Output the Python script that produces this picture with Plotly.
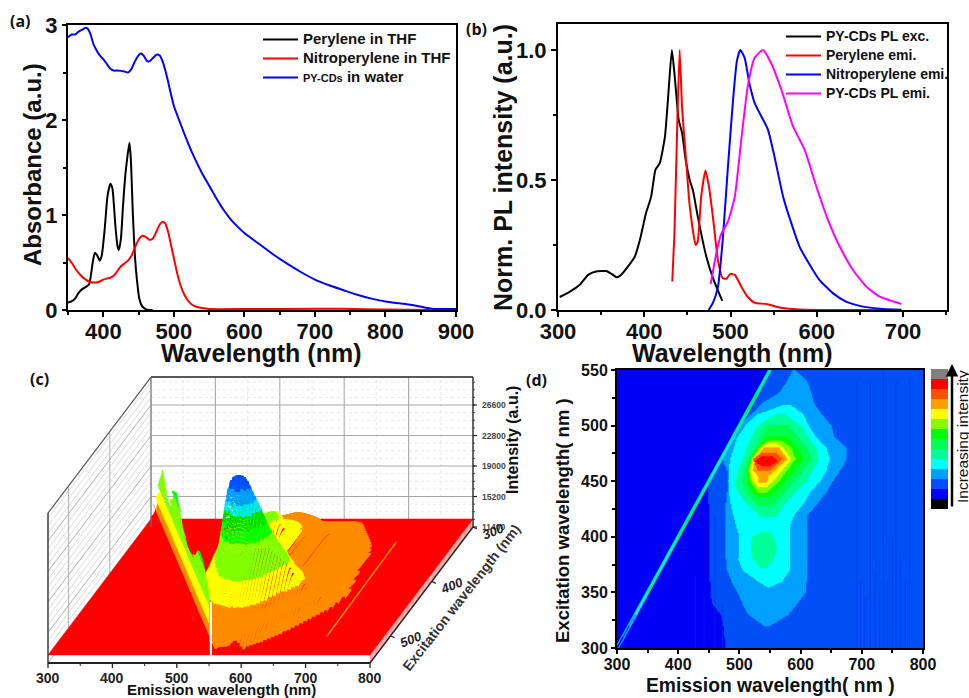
import numpy as np
import plotly.graph_objects as go

W, H = 969, 698
FONT = "Liberation Sans"

# ---------- panel (a): absorbance ----------
per_abs_x = [350,355,360,365,370,375,380,385,388,391,395,398,402,406,410,413,417,420,422,425,428,431,434,437,439,442,445,448,451,455,460,465,470]
per_abs_y = [.08,.09,.12,.18,.22,.24,.27,.50,.60,.58,.52,.58,.85,1.2,1.33,1.28,.9,.68,.63,.75,1.1,1.40,1.6,1.76,1.6,1.0,.55,.3,.12,.04,.01,0,0]
nit_abs_x = [350,355,360,365,370,375,380,385,390,395,400,410,415,420,425,430,435,440,445,450,455,460,465,470,475,480,484,488,492,497,500,505,510,515,520,525,530,540,550,600,700,740,800,870,900]
nit_abs_y = [.55,.5,.44,.39,.35,.32,.30,.29,.29,.30,.32,.34,.36,.41,.46,.49,.52,.57,.66,.74,.78,.77,.74,.75,.82,.90,.93,.91,.82,.65,.55,.38,.25,.16,.10,.06,.04,.02,.01,.01,.012,.012,.005,0,0]
cds_abs_x = [350,355,360,365,370,375,378,382,386,390,395,400,405,410,415,420,430,435,440,445,450,453,457,462,466,470,476,480,484,488,492,496,500,510,520,530,540,550,560,570,580,590,600,620,640,660,680,700,720,740,760,780,800,820,840,860,870,880,900]
cds_abs_y = [2.87,2.90,2.90,2.93,2.95,2.97,2.96,2.90,2.80,2.74,2.68,2.64,2.59,2.54,2.52,2.52,2.51,2.50,2.54,2.62,2.68,2.70,2.68,2.62,2.62,2.65,2.69,2.68,2.62,2.52,2.4,2.27,2.15,1.95,1.76,1.59,1.44,1.31,1.18,1.06,.96,.88,.81,.70,.59,.49,.40,.32,.26,.21,.16,.12,.09,.07,.05,.02,.01,.01,.01]

# ---------- panel (b): normalised PL ----------
exc_x = [302,313.5,325,335,344,356,362,368,373,381,389,395,402,408,413,418,424,427.5,432,435,440,444,448,452.7,456.5,462,472,480,490.5]
exc_y = [.05,.07,.096,.135,.148,.15,.139,.126,.135,.167,.205,.27,.372,.436,.54,.565,.667,.81,1.0,.91,.73,.68,.578,.50,.46,.36,.205,.12,.035]
per_emi_x = [432.5,435,438,441,444,448,452.7,459.6,462,466,471,475,480,485.5,491,495,500,505,512.5,520,528,541.5,557,572,588,698]
per_emi_y = [.11,.295,.68,1.0,.77,.60,.40,.25,.263,.436,.537,.475,.347,.19,.122,.12,.139,.135,.09,.05,.028,.023,.01,.004,.001,0]
nit_emi_x = [474.7,480,485.5,491,497,503,507.5,511.4,516.4,522,528,535.7,543.5,551,561,570.5,580,592,603,619,634,653.6,673,698]
nit_emi_y = [0,.03,.09,.27,.55,.81,.96,1.0,.97,.87,.796,.745,.693,.59,.436,.334,.244,.173,.116,.064,.032,.013,.005,.001]
cds_emi_x = [477,483.6,489,497,505,512.5,520,528,537.7,547,559,572.5,586,599.5,613,626.6,642,657.5,673,698]
cds_emi_y = [.10,.218,.29,.34,.436,.655,.86,.97,1.0,.95,.847,.706,.616,.475,.347,.244,.154,.09,.051,.023]

# ---------- panels (c), (d): excitation-emission map, band extents per excitation row ----------
L1_ex = list(range(300, 551, 10))
L1_left = [478,476,474,470,455,453,452,452,452,452,452,452,452,450,450,450,460,470,480,490,500,510,520,530,540,550]

L2_ex = [320,330,340,350,360,370,380,390,400,410,420,430,440,450,460,470,480,490,500,510,520,530,540,550]
L2_l  = [540,515,505,497,487,480,478,478,478,478,478,478,480,482,480,472,480,490,500,520,537,566,578,588]
L2_r  = [550,580,595,608,610,610,610,610,610,611,612,628,642,653,665,675,675,655,650,635,622,617,611,590]
L3_ex = [355,360,370,380,390,400,410,420,430,440,450,460,470,480,490,500,510,518]
L3_l  = [545,530,505,498,500,500,495,490,486,483,482,483,485,491,497,510,530,570]
L3_r  = [550,570,583,583,583,583,583,590,605,615,633,642,648,642,625,613,605,585]
L4a_ex = [372,380,390,400,404]
L4a_l  = [535,522,518,522,535]
L4a_r  = [545,557,561,557,548]
L4_ex = [418,430,440,450,460,470,480,490,500,510]
L4_l  = [535,510,497,492,498,505,512,520,530,560]
L4_r  = [560,575,592,610,620,630,625,612,600,575]
L5_ex = [428,440,450,460,470,480,490,500]
L5_l  = [530,510,505,508,515,525,535,545]
L5_r  = [555,575,590,605,618,610,595,580]
L6_ex = [436,440,450,460,470,480,490]
L6_l  = [530,520,513,512,518,530,545]
L6_r  = [548,560,575,590,605,595,580]
L7_ex = [440,450,460,470,480,486]
L7_l  = [530,518,515,520,532,545]
L7_r  = [545,565,578,592,585,570]
L8_ex = [445,450,460,470,480,484]
L8_l  = [530,522,517,522,535,545]
L8_r  = [545,555,570,585,572,560]
L9_ex = [449,455,460,470,480]
L9_l  = [532,530,522,525,540]
L9_r  = [545,548,560,578,565]
L10_ex = [460,470,475]
L10_l  = [530,522,535]
L10_r  = [550,572,560]
L11_ex = [464,468,472]
L11_l  = [535,525,535]
L11_r  = [550,563,555]

# wider low (orange) plateau seen on the surface in (c)
C2_ex = [320,340,360,380,400,420,440,460,480,500,520,540,550]
C2_l  = [520,490,480,470,470,470,470,470,480,500,520,545,560]
C2_r  = [640,660,680,690,690,695,700,700,690,670,650,625,600]

# Rayleigh ridge along emission = excitation (counts)
ridge_ex = L1_ex
ridge_I = [12600,13600,15100,17500,20200,21900,20900,19700,19450,20900,22600,23100,22100,21200,20400,19900,19600,19700,19950,20700,21900,22600,22400,21800,20900,19950]
# Thin lines visible on the surface
line2_em = [711,708]
line2_ex = [516,342]
line3_em = [575,575]
line3_ex = [379,352]
# darker / lighter columns of (d)
dark_em  = [692,698,705,714,722,729,735,742,750,756,763,771,778]
dark_top = [540,360,345,540,370,380,550,360,400,540,380,360,540]
light_em  = [428,442,460,472]
light_top = [365,350,420,340]

level_colors = ["#0000f5","#0050f5","#00a0ff","#00ffff","#00ff99","#00ff50","#00ff00","#80ff00","#ffff00","#ffa000","#ff5000","#ff0000"]
bar_colors = ["#000000","#0000ff","#0050ff","#00a0ff","#00ffff","#00ff99","#00ff50","#00ff00","#80ff00","#ffff00","#ffa000","#ff5000","#ff0000","#808080"]
surf_colors = ["#ff0000","#ff0000","#ff8c00","#ffff00","#80ff00","#80ff00","#00ff00","#00e000","#00e5ff","#009cff","#0050ff","#0000d0"]
level_intensity = [12400,12700,14900,16400,18600,20200,22000,23400,25000,26200,27700,29500]
surf_thresholds = [12400,12700,13200,16000,18500,20200,22000,23400,25000,26200,27700,29500]
C2_I = 13600
z_ticks = [11400,15200,19000,22800,26600]
Z_TOP = 30080

# ---------- assemble the level matrix ----------
em_grid = np.arange(300, 801, 2)
ex_grid = np.arange(300, 551, 1)
Z = np.zeros((len(ex_grid), len(em_grid)))
bands = [(1,L1_ex,L1_left,[800]*len(L1_ex)),(2,L2_ex,L2_l,L2_r),(3,L3_ex,L3_l,L3_r),(4,L4a_ex,L4a_l,L4a_r),(4,L4_ex,L4_l,L4_r),(5,L5_ex,L5_l,L5_r),
         (6,L6_ex,L6_l,L6_r),(7,L7_ex,L7_l,L7_r),(8,L8_ex,L8_l,L8_r),(9,L9_ex,L9_l,L9_r),(10,L10_ex,L10_l,L10_r),(11,L11_ex,L11_l,L11_r)]
def mask_of(e, rows, ls, rs):
    if rows[0] <= e <= rows[-1]:
        return (em_grid >= np.interp(e, rows, ls)) & (em_grid <= np.interp(e, rows, rs))
    return np.zeros_like(em_grid, dtype=bool)
for lev, rows, ls, rs in bands:
    for i, e in enumerate(ex_grid):
        Z[i, mask_of(e, rows, ls, rs)] = lev

# ---------- figure ----------
fig = go.Figure()
def dom_x(a, b): return [a / W, b / W]
def dom_y(top, bot): return [1 - bot / H, 1 - top / H]

def ax_common(**kw):
    d = dict(showgrid=False, zeroline=False, showline=True, mirror=True, linecolor="black", linewidth=2, automargin=False,
             ticks="outside", tickcolor="black", tickwidth=1.5, ticklen=5,
             tickfont=dict(family=FONT, size=22, color="#111", weight="bold"))
    d.update(kw); return d

line_kw = dict(width=2, shape="spline", smoothing=0.5)
def big(s, px): return f'<span style="font-size:{px}px">{s}</span>'
# (a)
for x, y, c, n in [(per_abs_x, per_abs_y, "black", big("Perylene in THF", 15)),
                   (nit_abs_x, nit_abs_y, "#ff0000", big("Nitroperylene in THF", 15)),
                   (cds_abs_x, cds_abs_y, "#0000ff", big("PY-CDs", 11) + big(" in water", 15))]:
    fig.add_trace(go.Scatter(x=x, y=y, mode="lines", name=n, line=dict(color=c, **line_kw), xaxis="x", yaxis="y", legend="legend", hoverinfo="skip"))
# (b)
for x, y, c, n in [(exc_x, exc_y, "black", big("PY-CDs PL exc.", 14)),
                   (per_emi_x, per_emi_y, "#ff0000", big("Perylene emi.", 14)),
                   (nit_emi_x, nit_emi_y, "#0000ff", big("Nitroperylene emi.", 14)),
                   (cds_emi_x, cds_emi_y, "#ff00ff", big("PY-CDs PL emi.", 14))]:
    fig.add_trace(go.Scatter(x=x, y=y, mode="lines", name=n, line=dict(color=c, **line_kw), xaxis="x2", yaxis="y2", legend="legend2", hoverinfo="skip"))

# (d) contour
scale = []
n = len(level_colors)
for i, c in enumerate(level_colors):
    scale += [[i / n, c], [(i + 1) / n, c]]
fig.add_trace(go.Contour(x=em_grid, y=ex_grid, z=Z, zmin=-0.5, zmax=11.5, colorscale=scale, showscale=False,
                         autocontour=False, contours=dict(start=0.5, end=10.5, size=1, coloring="fill", showlines=False),
                         line=dict(width=0), xaxis="x4", yaxis="y4", hoverinfo="skip"))
dx, dy = [], []
for e, t in zip(dark_em, dark_top):
    dx += [e, e, None]; dy += [300, t, None]
fig.add_trace(go.Scatter(x=dx, y=dy, mode="lines", line=dict(color="#0030f0", width=1), opacity=0.55, xaxis="x4", yaxis="y4", showlegend=False, hoverinfo="skip"))
dx, dy = [], []
for e, t in zip(light_em, light_top):
    dx += [e, e, None]; dy += [300, t, None]
fig.add_trace(go.Scatter(x=dx, y=dy, mode="lines", line=dict(color="#0030f5", width=1), opacity=0.6, xaxis="x4", yaxis="y4", showlegend=False, hoverinfo="skip"))
lev_of = lambda I: int(np.clip(np.searchsorted(level_intensity, I) - 1, 0, 11))
fig.add_trace(go.Scatter(x=ridge_ex, y=ridge_ex, mode="lines", line=dict(color="#00d0ff", width=3.6), xaxis="x4", yaxis="y4", showlegend=False, hoverinfo="skip"))
for lev in sorted({lev_of(I) for I in ridge_I}):
    xs = []
    for i in range(len(ridge_ex) - 1):
        if lev_of(ridge_I[i]) == lev:
            xs += [ridge_ex[i], ridge_ex[i + 1], None]
    fig.add_trace(go.Scatter(x=xs, y=xs, mode="lines", line=dict(color=level_colors[lev], width=1.8), xaxis="x4", yaxis="y4", showlegend=False, hoverinfo="skip"))

# intensity bar
fig.add_trace(go.Heatmap(z=[[i] for i in range(14)], x=[0], y=list(range(14)), zmin=-0.5, zmax=13.5, showscale=False,
                         colorscale=sum([[[i / 14, c], [(i + 1) / 14, c]] for i, c in enumerate(bar_colors)], []),
                         xaxis="x5", yaxis="y5", hoverinfo="skip"))

# (c) oblique projection of (emission, excitation, intensity)
X0, Y0, SX, DX, DY, K = 48, 663, 322 / 500, 103 / 250, 136 / 250, 30.5 / 3800
def proj(em, ex, I):
    return X0 + (em - 300) * SX + (550 - ex) * DX, Y0 - (550 - ex) * DY - (I - 11400) * K

def add3(xs, ys, color, width=1, dash=None, fill=False):
    tr = dict(x=xs, y=ys, mode="lines", xaxis="x3", yaxis="y3", showlegend=False, hoverinfo="skip",
              line=dict(color=color, width=width, dash=dash))
    if fill:
        tr.update(fill="toself", fillcolor=color)
    fig.add_trace(go.Scatter(**tr))

def seg(a, b, color, width=1, dash=None):
    p, q = proj(*a), proj(*b)
    add3([p[0], q[0]], [p[1], q[1]], color, width, dash)

# walls
for em in range(300, 801, 50):
    major = em % 100 == 0
    seg((em, 300, 11400), (em, 300, Z_TOP), "#a8a8a8" if major else "#e2e2e2", 1.1 if major else 0.8, None if major else "dot")
for I in np.arange(11400, 30000, 950):
    major = (I - 11400) % 3800 == 0
    seg((300, 300, I), (800, 300, I), "#a8a8a8" if major else "#e2e2e2", 1.1 if major else 0.8, None if major else "dot")
    seg((300, 550, I), (300, 300, I), "#a8a8a8" if major else "#cccccc", 0.9 if major else 0.7)
for ex in (400, 500):
    seg((300, ex, 11400), (300, ex, Z_TOP), "#b0b0b0", 1)

# side stripes on the right edge
sx, sy = [], []
for ex in np.arange(300, 551, 3):
    p, q = proj(800, ex, 11400), proj(800, ex, level_intensity[0])
    sx += [p[0], q[0], None]; sy += [p[1], q[1], None]
add3(sx, sy, "#ff8f8f", 1)

# base plate
base = level_intensity[0]
plate = [proj(300, 550, base), proj(800, 550, base), proj(800, 300, base), proj(300, 300, base), proj(300, 550, base)]
add3([p[0] for p in plate], [p[1] for p in plate], "#ff0000", 0.5, fill=True)

# relief: heights from the level matrix, eased, painted back to front as one marker trace
def ease(A, n, axis):
    k = np.ones(n) / n
    pad = n // 2
    return np.apply_along_axis(lambda v: np.convolve(np.pad(v, pad, mode="edge"), k, mode="valid"), axis, A)
H_of = np.array(level_intensity)[Z.astype(int)]
for i, e in enumerate(ex_grid):
    m = mask_of(e, C2_ex, C2_l, C2_r)
    H_of[i, m] = np.maximum(H_of[i, m], C2_I)
for _ in range(2):
    H_of = ease(ease(H_of, 5, 1), 9, 0)
thr = np.array(surf_thresholds)
mx, my, mc = [], [], []
for i, e in enumerate(ex_grid):
    for j in range(0, len(em_grid), 2):
        v = H_of[i, j]
        if v > 12750:
            p = proj(em_grid[j], e, v)
            mx.append(round(p[0], 1)); my.append(round(p[1], 1))
            mc.append(surf_colors[int(np.clip(np.searchsorted(thr, v) - 1, 0, 11))])
fig.add_trace(go.Scatter(x=mx, y=my, mode="markers", xaxis="x3", yaxis="y3", showlegend=False, hoverinfo="skip",
                         marker=dict(symbol="square", size=3, color=mc, line=dict(width=0))))

# thin lines on the surface
p, q = proj(line2_em[0], line2_ex[0], base), proj(line2_em[1], line2_ex[1], base)
add3([p[0], q[0]], [p[1], q[1]], "#ff8c00", 1.5)
p, q = proj(line3_em[0], line3_ex[0], 14900), proj(line3_em[1], line3_ex[1], 14900)
add3([p[0], q[0]], [p[1], q[1]], "#ff8c00", 1.5)

# ridge wall, coloured by band
edges = level_intensity + [Z_TOP]
for lev in range(12):
    lo, hi = edges[lev], edges[lev + 1]
    xs, ys = [], []
    for i in range(len(ridge_ex) - 1):
        e0, e1 = ridge_ex[i], ridge_ex[i + 1]
        t0, t1 = min(ridge_I[i], hi), min(ridge_I[i + 1], hi)
        if t0 <= lo and t1 <= lo:
            continue
        t0, t1 = max(t0, lo), max(t1, lo)
        pts = [proj(e0, e0, lo), proj(e1, e1, lo), proj(e1, e1, t1), proj(e0, e0, t0)]
        xs += [p[0] for p in pts] + [pts[0][0], None]
        ys += [p[1] for p in pts] + [pts[0][1], None]
    if xs:
        add3(xs, ys, surf_colors[lev], 0.5, fill=True)
# white notch right of the ridge foot
seg((553, 550, 12400), (553, 550, 19000), "white", 2.2)

# frame of (c)
seg((300, 300, Z_TOP), (800, 300, Z_TOP), "#222", 1.6)
seg((300, 300, 11400), (300, 300, Z_TOP), "#777", 1)
seg((300, 550, Z_TOP), (300, 300, Z_TOP), "#555", 1.2)
seg((300, 550, 11400), (300, 550, Z_TOP), "#333", 1.4)
seg((300, 550, 11400), (800, 550, 11400), "#222", 1.8)
seg((800, 550, 11400), (800, 300, 11400), "#222", 1.4)
seg((800, 300, 11400), (800, 300, Z_TOP), "#222", 1.2)

ann = []
def txt(x, y, s, size, bold=True, color="#111", angle=0, ref="x3", family=FONT, anchor="center"):
    ann.append(dict(x=x, y=y, xref=ref, yref="y3", text=f"<b>{s}</b>" if bold else s, showarrow=False, textangle=angle,
                    font=dict(family=family, size=size, color=color), xanchor=anchor, yanchor="middle"))

for em in range(300, 801, 100):
    p = proj(em, 550, 11400)
    add3([p[0], p[0]], [p[1], p[1] + 5], "#222", 1.3)
    txt(p[0], p[1] + 15, str(em), 14, color="#222")
for em in range(350, 800, 100):
    p = proj(em, 550, 11400)
    add3([p[0], p[0]], [p[1], p[1] + 3], "#222", 1)
for I in z_ticks:
    p = proj(800, 300, I)
    add3([p[0], p[0] + 4], [p[1], p[1]], "#222", 1.2)
    txt(p[0] + 7, p[1], str(I), 8.5, color="#444", anchor="left")
for I in np.arange(11400, 30000, 950):
    p = proj(800, 300, I)
    add3([p[0], p[0] + 2], [p[1], p[1]], "#222", 0.8)
for ex in (300, 400, 500):
    p = proj(800, ex, 11400)
    add3([p[0], p[0] + 4], [p[1], p[1] + 2], "#222", 1.2)
    txt(p[0] + 20, p[1] + 4, str(ex), 13, color="#222", angle=-22)
    ann[-1]["text"] = f"<b><i>{ex}</i></b>"

txt(221, 689, "Emission wavelength (nm)", 15, color="#111")
txt(461, 598, "Excitation wavelength (nm)", 14, bold=True, color="#333", angle=-52)
txt(512, 440, "Intensity (a.u.)", 16, color="#111", angle=-90)
# axis titles
txt(261, 353, "Wavelength (nm)", 25)
txt(732, 353, "Wavelength (nm)", 25)
txt(32, 165, "Absorbance (a.u.)", 24, angle=-90)
txt(503, 168, "Norm. PL intensity (a.u.)", 25, angle=-90)
txt(770, 685, "Emission wavelength( nm )", 19.3)
txt(562, 521, "Excitation wavelength( nm )", 18.5, angle=-90)
# panel letters
for s, x, y in [("(a)", 20, 21), ("(b)", 476, 29), ("(c)", 39, 379), ("(d)", 536, 380)]:
    txt(x, y, s, 16, color="#111", family="Open Sans")
# bar caption and arrow
txt(962, 437, "Increasing intensity", 15.5, bold=False, color="#111", angle=-90)
ann.append(dict(x=952, y=364, ax=952, ay=508, xref="x3", yref="y3", axref="x3", ayref="y3", text="", showarrow=True,
                arrowhead=2, arrowsize=1, arrowwidth=2.5, arrowcolor="black"))

small_tick = dict(family=FONT, size=16, color="#111", weight="bold")
fig.update_layout(
    width=W, height=H, margin=dict(l=0, r=0, t=0, b=0), paper_bgcolor="white", plot_bgcolor="rgba(0,0,0,0)",
    font=dict(family=FONT, color="#111"), annotations=ann,
    xaxis=ax_common(domain=dom_x(68, 456), range=[350, 900], tickvals=[400, 500, 600, 700, 800, 900], ticklabelstandoff=-4,
                    minor=dict(dtick=50, tick0=350, ticks="outside", ticklen=3, tickcolor="black"), anchor="y"),
    yaxis=ax_common(domain=dom_y(25, 310), range=[0, 3], tickvals=[0, 1, 2, 3], ticklen=4,
                    minor=dict(dtick=0.5, ticks="outside", ticklen=3, tickcolor="black"), anchor="x"),
    xaxis2=ax_common(domain=dom_x(558, 947), range=[300, 751], tickvals=[300, 400, 500, 600, 700], ticklabelstandoff=-4,
                     minor=dict(dtick=50, tick0=300, ticks="outside", ticklen=3, tickcolor="black"), anchor="y2"),
    yaxis2=ax_common(domain=dom_y(24, 310), range=[0, 1.1], tickvals=[0, .5, 1], tickformat=".1f",
                     minor=dict(dtick=0.25, ticks="outside", ticklen=3, tickcolor="black"), anchor="x2"),
    xaxis3=dict(domain=[0, 1], range=[0, W], visible=False, anchor="y3", fixedrange=True),
    yaxis3=dict(domain=[0, 1], range=[H, 0], visible=False, anchor="x3", fixedrange=True),
    xaxis4=ax_common(domain=dom_x(617, 923), range=[300, 800], tickvals=[300, 400, 500, 600, 700, 800],
                     tickfont=small_tick, ticklen=4, ticklabelstandoff=-3,
                     minor=dict(dtick=50, tick0=300, ticks="outside", ticklen=3, tickcolor="black"), anchor="y4"),
    yaxis4=ax_common(domain=dom_y(370, 648), range=[300, 550], tickvals=[300, 350, 400, 450, 500, 550],
                     tickfont=small_tick, ticklen=4,
                     minor=dict(dtick=25, ticks="outside", ticklen=3, tickcolor="black"), anchor="x4"),
    xaxis5=dict(domain=dom_x(931, 948), visible=False, anchor="y5"),
    yaxis5=dict(domain=dom_y(369, 509), visible=False, anchor="x5", range=[-0.5, 13.5]),
    legend=dict(x=258 / W, y=1 - 25 / H, xanchor="left", yanchor="top", bgcolor="rgba(0,0,0,0)", itemwidth=35,
                font=dict(family=FONT, size=12, color="#111", weight="bold"), tracegroupgap=0),
    legend2=dict(x=781 / W, y=1 - 22 / H, xanchor="left", yanchor="top", bgcolor="rgba(0,0,0,0)", itemwidth=35,
                 font=dict(family=FONT, size=12, color="#111", weight="bold"), tracegroupgap=0),
)
fig.write_html("out.html", config=dict(displayModeBar=False),
               post_script="document.body.style.margin='0';document.body.style.overflow='hidden';")
